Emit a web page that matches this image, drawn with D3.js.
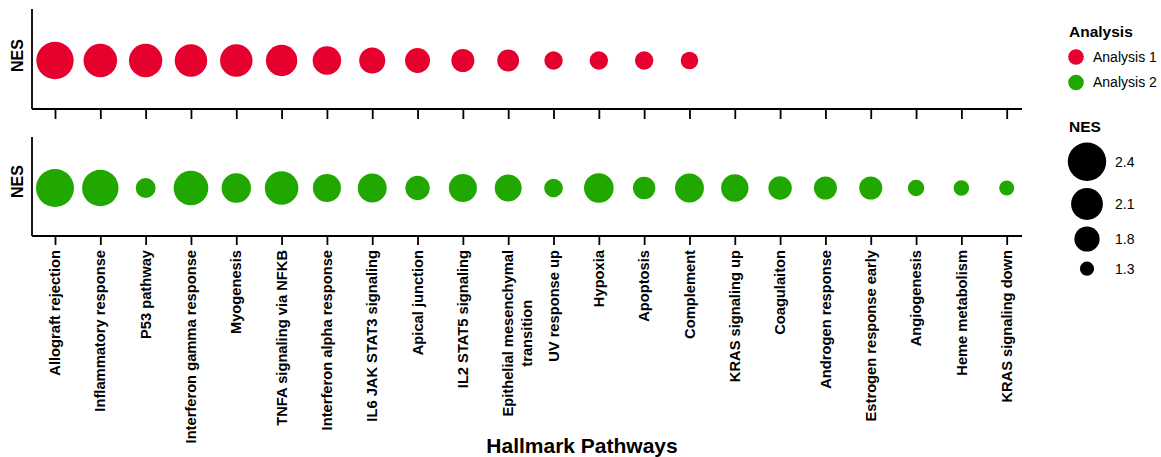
<!DOCTYPE html>
<html>
<head>
<meta charset="utf-8">
<script src="https://cdn.jsdelivr.net/npm/d3@7"></script>
<style>
  html, body { margin: 0; padding: 0; background: #fff; }
  svg { display: block; font-family: "Liberation Sans", Arial, sans-serif; }
</style>
</head>
<body>
<svg id="chart" width="1161" height="457"></svg>
<script>
// Hallmark pathways (x categories); "\n" marks a wrapped label
const pathways = [
  "Allograft rejection", "Inflammatory response", "P53 pathway",
  "Interferon gamma response", "Myogenesis", "TNFA signaling via NFKB",
  "Interferon alpha response", "IL6 JAK STAT3 signaling", "Apical junction",
  "IL2 STAT5 signaling", "Epithelial mesenchymal\ntransition", "UV response up",
  "Hypoxia", "Apoptosis", "Complement", "KRAS signaling up", "Coagulaiton",
  "Androgen response", "Estrogen response early", "Angiogenesis",
  "Heme metabolism", "KRAS signaling down"
];

// Normalized enrichment scores per analysis (null = not enriched)
const nesAnalysis1 = [2.35, 2.18, 2.17, 2.13, 2.13, 2.08, 1.95, 1.84, 1.79, 1.70,
                      1.65, 1.49, 1.49, 1.49, 1.45, null, null, null, null, null, null, null];
const nesAnalysis2 = [2.38, 2.31, 1.56, 2.23, 1.99, 2.18, 1.93, 1.97, 1.76, 1.93,
                      1.88, 1.50, 2.00, 1.67, 1.97, 1.90, 1.72, 1.70, 1.70, 1.40, 1.36, 1.34];

const analysisNames = ["Analysis 1", "Analysis 2"];
const analysisColors = ["#E6002E", "#20A800"];
const sizeBreaks = [2.4, 2.1, 1.8, 1.3];

const svg = d3.select("#chart");

const x = d3.scalePoint().domain(pathways).range([55, 1006.7]);
const r = d3.scaleLinear().domain([1.3, 2.4]).range([7.1, 19.2]);
const color = d3.scaleOrdinal().domain(analysisNames).range(analysisColors);

const plotLeft = 32, plotRight = 1022;
const labelFont = 14.7;
const panels = [
  { name: analysisNames[0], values: nesAnalysis1, top: 9,   bottom: 109, tick: 10, labelY: 55.5 },
  { name: analysisNames[1], values: nesAnalysis2, top: 137, bottom: 236, tick: 9,  labelY: 181.5 }
];

panels.forEach((p, i) => {
  const g = svg.append("g");
  const yMid = p.top + (p.bottom - p.top) / 2 + 1.5;

  // points
  g.selectAll("circle")
    .data(pathways.map((d, k) => ({ pathway: d, nes: p.values[k] })).filter(d => d.nes != null))
    .join("circle")
    .attr("cx", d => x(d.pathway))
    .attr("cy", yMid)
    .attr("r", d => r(d.nes))
    .attr("fill", color(p.name));

  // x axis ticks
  const axis = d3.axisBottom(x).tickSize(p.tick).tickSizeOuter(0).tickFormat("");
  const ax = g.append("g").attr("transform", `translate(0,${p.bottom})`).call(axis);
  ax.select(".domain").remove();
  ax.selectAll(".tick line").attr("stroke", "#000").attr("stroke-width", 1.8);

  // axis lines
  g.append("line").attr("x1", plotLeft).attr("x2", plotRight)
    .attr("y1", p.bottom).attr("y2", p.bottom)
    .attr("stroke", "#000").attr("stroke-width", 1.8);
  g.append("line").attr("x1", plotLeft).attr("x2", plotLeft)
    .attr("y1", p.top).attr("y2", p.bottom)
    .attr("stroke", "#000").attr("stroke-width", 1.8);

  // y axis title
  g.append("text")
    .attr("transform", `translate(23,${p.labelY}) rotate(-90)`)
    .attr("text-anchor", "middle")
    .attr("font-size", 16).attr("font-weight", "bold")
    .text("NES");

  // category labels on the lower panel only
  if (i === 1) {
    const labelTop = p.bottom + p.tick + 5;
    pathways.forEach(name => {
      const lines = name.split("\n");
      const cx = x(name);
      const t1 = g.append("text")
        .attr("transform", `translate(${cx},${labelTop}) rotate(-90)`)
        .attr("text-anchor", "end")
        .attr("dy", "0.35em")
        .attr("font-size", labelFont).attr("font-weight", "bold")
        .text(lines[0]);
      if (lines.length > 1) {
        const len = t1.node().getComputedTextLength();
        g.append("text")
          .attr("transform", `translate(${cx + 18.5},${labelTop + len / 2}) rotate(-90)`)
          .attr("text-anchor", "middle")
          .attr("dy", "0.35em")
          .attr("font-size", labelFont).attr("font-weight", "bold")
          .text(lines[1]);
      }
    });
  }
});

// x axis title
svg.append("text")
  .attr("x", 582).attr("y", 453)
  .attr("text-anchor", "middle")
  .attr("font-size", 21).attr("font-weight", "bold")
  .text("Hallmark Pathways");

// legend: colour
const leg = svg.append("g");
leg.append("text").attr("x", 1069).attr("y", 37)
  .attr("font-size", 15.5).attr("font-weight", "bold").text("Analysis");
analysisNames.forEach((n, k) => {
  const cy = 57 + k * 25.5;
  leg.append("circle").attr("cx", 1076).attr("cy", cy).attr("r", 7.8).attr("fill", color(n));
  leg.append("text").attr("x", 1093).attr("y", cy).attr("dy", "0.35em")
    .attr("font-size", 14).text(n);
});

// legend: size
leg.append("text").attr("x", 1069).attr("y", 132)
  .attr("font-size", 15.5).attr("font-weight", "bold").text("NES");
const sizeY = [161.7, 204, 239, 268.7];
sizeBreaks.forEach((v, k) => {
  leg.append("circle").attr("cx", 1087).attr("cy", sizeY[k]).attr("r", r(v)).attr("fill", "#000");
  leg.append("text").attr("x", 1115).attr("y", sizeY[k]).attr("dy", "0.35em")
    .attr("font-size", 14).text(d3.format(".1f")(v));
});
</script>
</body>
</html>
